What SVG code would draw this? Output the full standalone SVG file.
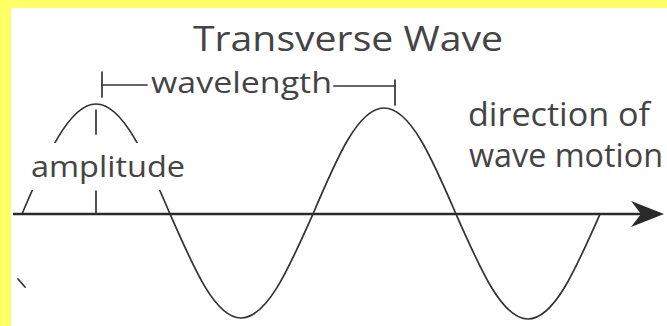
<svg xmlns="http://www.w3.org/2000/svg" width="667" height="326" viewBox="0 0 667 326">
<style>
.ln{fill:none;stroke:#333;stroke-width:1.7;stroke-linecap:round;stroke-linejoin:round}
.ax{fill:none;stroke:#2a2a2a;stroke-width:2.6}
.tx{font-family:"Open Sans","DejaVu Sans",sans-serif;fill:#444}
</style>
<defs>
<clipPath id="gap">
<rect x="0" y="0" width="667" height="143"/>
<rect x="0" y="190" width="667" height="136"/>
<rect x="190" y="0" width="477" height="326"/>
</clipPath>
</defs>
<rect x="0" y="0" width="667" height="326" fill="#ffffff"/>
<rect x="0" y="0" width="667" height="8" fill="#ffff66"/>
<rect x="0" y="0" width="11" height="326" fill="#ffff66"/>
<g id="title"><text class="tx" x="193" y="51" font-size="35" textLength="310" lengthAdjust="spacingAndGlyphs">Transverse Wave</text></g>
<g id="wave">
<path class="ln" clip-path="url(#gap)" d="M22,214 C46.7,155.8 69.1,104 96,104 C122.9,104 145.3,155.8 170,214 C193.7,268.1 215.2,318 241,318 C267.2,318 288.9,268.1 313,214 C336.7,157.9 358.2,108 384,108 C410.2,108 431.9,157.9 456,214 C480.1,268.7 501.8,319 528,319 C554.2,319 575.9,268.7 600,214"/>
</g>
<g id="axis">
<line class="ax" x1="13" y1="214" x2="645" y2="214"/>
<path d="M664,214 L631,201 L641,214 L631,227 Z" fill="#2a2a2a"/>
</g>
<g id="amplitude">
<line class="ln" x1="96" y1="110" x2="96" y2="134"/>
<line class="ln" x1="96" y1="191" x2="96" y2="214"/>
<text class="tx" x="31" y="177" font-size="30" textLength="154" lengthAdjust="spacingAndGlyphs">amplitude</text>
</g>
<g id="wavelength">
<line class="ln" x1="102" y1="72" x2="102" y2="97"/>
<line class="ln" x1="102" y1="85" x2="147" y2="85"/>
<text class="tx" x="151" y="93" font-size="30" textLength="181" lengthAdjust="spacingAndGlyphs">wavelength</text>
<line class="ln" x1="334" y1="86" x2="395" y2="86"/>
<line class="ln" x1="395" y1="80" x2="395" y2="105"/>
</g>
<g id="direction">
<text class="tx" x="468" y="126" font-size="32" textLength="182" lengthAdjust="spacingAndGlyphs">direction of</text>
<text class="tx" x="469" y="167" font-size="32" textLength="194" lengthAdjust="spacingAndGlyphs">wave motion</text>
</g>
<line id="mark" class="ln" x1="18" y1="279" x2="25" y2="287" stroke-width="2.5"/>
</svg>
